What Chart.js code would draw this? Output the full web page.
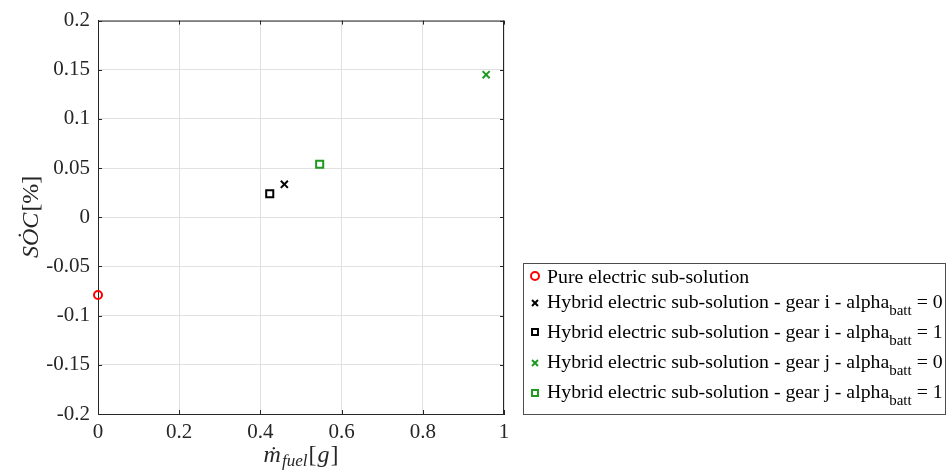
<!DOCTYPE html>
<html>
<head>
<meta charset="utf-8">
<script src="https://cdn.jsdelivr.net/npm/chart.js@4"></script>
<style>
  html, body { margin: 0; padding: 0; background: #fff; }
  #wrap { width: 949px; height: 472px; }
</style>
</head>
<body>
<div id="wrap"><canvas id="socChart" width="949" height="472"></canvas></div>
<script>
// values
const xTicks = [0, 0.2, 0.4, 0.6, 0.8, 1];
const yTicks = [-0.2, -0.15, -0.1, -0.05, 0, 0.05, 0.1, 0.15, 0.2];

const seriesNames = [
  "Pure electric sub-solution",
  "Hybrid electric sub-solution - gear i - alpha",
  "Hybrid electric sub-solution - gear i - alpha",
  "Hybrid electric sub-solution - gear j - alpha",
  "Hybrid electric sub-solution - gear j - alpha"
];
const seriesSub = ["", "batt", "batt", "batt", "batt"];
const seriesTail = ["", " = 0", " = 1", " = 0", " = 1"];

const pureX = [0];        const pureY = [-0.079];
const gearI0X = [0.459];  const gearI0Y = [0.0335];
const gearI1X = [0.423];  const gearI1Y = [0.024];
const gearJ0X = [0.956];  const gearJ0Y = [0.145];
const gearJ1X = [0.546];  const gearJ1Y = [0.054];

const RED = "#ff0000";
const BLACK = "#000000";
const GREEN = "#1f991f";
const AXIS = "#262626";
const SERIF = "'Liberation Serif', 'DejaVu Serif', serif";

const toPoints = (xs, ys) => xs.map((x, i) => ({ x: x, y: ys[i] }));

const styles = [
  { color: RED, pointStyle: "circle", radius: 4 },
  { color: BLACK, pointStyle: "crossRot", radius: 5 },
  { color: BLACK, pointStyle: "rect", radius: 5 },
  { color: GREEN, pointStyle: "crossRot", radius: 5 },
  { color: GREEN, pointStyle: "rect", radius: 5 }
];
const allData = [
  toPoints(pureX, pureY),
  toPoints(gearI0X, gearI0Y),
  toPoints(gearI1X, gearI1Y),
  toPoints(gearJ0X, gearJ0Y),
  toPoints(gearJ1X, gearJ1Y)
];

const datasets = allData.map((d, i) => ({
  label: seriesNames[i] + seriesSub[i] + seriesTail[i],
  data: d,
  showLine: false,
  clip: false,
  pointStyle: styles[i].pointStyle,
  pointRadius: styles[i].radius,
  pointHoverRadius: styles[i].radius,
  pointBorderWidth: 2,
  pointBorderColor: styles[i].color,
  pointBackgroundColor: "rgba(0,0,0,0)",
  borderColor: styles[i].color,
  backgroundColor: "rgba(0,0,0,0)"
}));

const fmt = v => String(Number(Number(v).toFixed(2)));

// frame, inside ticks, axis titles and legend drawn like the original figure
const matlabDecor = {
  id: "matlabDecor",
  afterDraw(chart) {
    const c = chart.ctx;
    const a = chart.chartArea;
    const xs = chart.scales.x, ys = chart.scales.y;
    c.save();
    c.strokeStyle = AXIS;
    c.lineWidth = 1;
    c.beginPath();
    c.moveTo(a.left, a.top + 0.5); c.lineTo(a.right, a.top + 0.5);
    c.moveTo(a.right - 0.5, a.top); c.lineTo(a.right - 0.5, a.bottom);
    xTicks.forEach(t => {
      const px = Math.round(xs.getPixelForValue(t)) + 0.5;
      c.moveTo(px, a.bottom); c.lineTo(px, a.bottom - 4);
      c.moveTo(px, a.top); c.lineTo(px, a.top + 4);
    });
    yTicks.forEach(t => {
      const py = Math.round(ys.getPixelForValue(t)) + 0.5;
      c.moveTo(a.left, py); c.lineTo(a.left + 4, py);
      c.moveTo(a.right, py); c.lineTo(a.right - 4, py);
    });
    c.stroke();

    // y title: SȮC[%]
    c.fillStyle = AXIS;
    c.translate(30, (a.top + a.bottom) / 2);
    c.rotate(-Math.PI / 2);
    c.textBaseline = "alphabetic";
    const p1 = "S\u022EC";
    const p2 = "[%]";
    c.font = "italic 24px " + SERIF;
    const w1 = c.measureText(p1).width;
    c.font = "24px " + SERIF;
    const w2 = c.measureText(p2).width;
    const sx = -(w1 + w2) / 2;
    c.font = "italic 24px " + SERIF;
    c.fillText(p1, sx, 8);
    c.font = "24px " + SERIF;
    c.fillText(p2, sx + w1 + 1, 8);
    c.setTransform(1, 0, 0, 1, 0, 0);

    // x title: ṁ_fuel[g]
    const cx = (a.left + a.right) / 2;
    const by = 462;
    c.font = "italic 24px " + SERIF;
    const m = "\u1E41";
    const wm = c.measureText(m).width;
    c.font = "italic 17px " + SERIF;
    const f = "fuel";
    const wf = c.measureText(f).width;
    c.font = "24px " + SERIF;
    const wb = c.measureText("[").width;
    c.font = "italic 24px " + SERIF;
    const wgg = c.measureText("g").width;
    const total = wm + wf + 2 * wb + wgg + 4;
    let tx = cx - total / 2;
    c.font = "italic 24px " + SERIF;
    c.fillText(m, tx, by);
    tx += wm + 1;
    c.font = "italic 17px " + SERIF;
    c.fillText(f, tx, by + 4);
    tx += wf + 1;
    c.font = "24px " + SERIF;
    c.fillText("[", tx, by);
    tx += wb + 1;
    c.font = "italic 24px " + SERIF;
    c.fillText("g", tx, by);
    tx += wgg + 1;
    c.font = "24px " + SERIF;
    c.fillText("]", tx, by);

    // legend box
    const lx = 523, ly = 263, lw = 422, lh = 151;
    c.fillStyle = "#fff";
    c.fillRect(lx, ly, lw, lh);
    c.strokeStyle = "#4d4d4d";
    c.lineWidth = 1;
    c.strokeRect(lx + 0.5, ly + 0.5, lw, lh);
    const baselines = [283, 308, 338, 368, 398];
    const markerY = [276, 303, 332, 363, 393];
    baselines.forEach((b, i) => {
      const s = styles[i];
      c.strokeStyle = s.color;
      c.fillStyle = "rgba(0,0,0,0)";
      c.lineWidth = 2;
      Chart.helpers.drawPoint(c, { pointStyle: s.pointStyle, radius: i === 0 ? 4 : 4.2, borderWidth: 2 }, 535, markerY[i]);
      c.fillStyle = "#000";
      c.font = "19.8px " + SERIF;
      c.fillText(seriesNames[i], 547, b);
      let w = c.measureText(seriesNames[i]).width;
      if (seriesSub[i]) {
        c.font = "15px " + SERIF;
        c.fillText(seriesSub[i], 547 + w, b + 7);
        w += c.measureText(seriesSub[i]).width;
        c.font = "19.8px " + SERIF;
        c.fillText(seriesTail[i], 547 + w, b);
      }
    });
    c.restore();
  }
};

new Chart(document.getElementById("socChart"), {
  type: "scatter",
  data: { datasets: datasets },
  options: {
    responsive: false,
    animation: false,
    events: [],
    layout: { padding: { left: 0, top: 19, right: 445, bottom: 0 } },
    plugins: {
      legend: { display: false },
      tooltip: { enabled: false }
    },
    scales: {
      x: {
        type: "linear",
        min: 0,
        max: 1,
        afterFit: s => { s.height = 58; },
        afterBuildTicks: s => { s.ticks = xTicks.map(v => ({ value: v })); },
        ticks: {
          callback: v => fmt(v),
          font: { family: SERIF, size: 21 },
          color: AXIS,
          padding: 6,
          maxRotation: 0
        },
        grid: { color: "#e1e1e1", lineWidth: 1, drawTicks: false },
        border: { color: AXIS, width: 1 }
      },
      y: {
        type: "linear",
        min: -0.2,
        max: 0.2,
        afterFit: s => { s.width = 98; },
        afterBuildTicks: s => { s.ticks = yTicks.map(v => ({ value: v })); },
        ticks: {
          callback: v => fmt(v),
          font: { family: SERIF, size: 21 },
          color: AXIS,
          padding: 8
        },
        grid: { color: "#e1e1e1", lineWidth: 1, drawTicks: false },
        border: { color: AXIS, width: 1 }
      }
    }
  },
  plugins: [matlabDecor]
});
</script>
</body>
</html>
